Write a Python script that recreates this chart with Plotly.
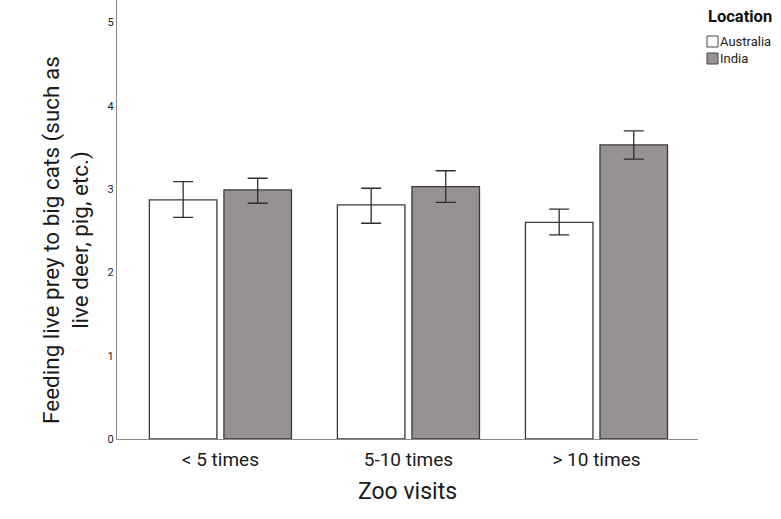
import plotly.graph_objects as go

# Zoo visit categories and mean ratings per location
categories = ["< 5 times", "5-10 times", "> 10 times"]
australia_mean = [2.87, 2.81, 2.60]
australia_err_plus = [0.22, 0.20, 0.16]
australia_err_minus = [0.21, 0.22, 0.15]
india_mean = [2.99, 3.03, 3.53]
india_err_plus = [0.14, 0.19, 0.17]
india_err_minus = [0.16, 0.19, 0.17]
y_ticks = [0, 1, 2, 3, 4, 5]

FONT = "Roboto"
EDGE = "#3a3a3a"
ERR = "#2e2e2e"
AUS_FILL = "#ffffff"
IND_FILL = "#979191"

W, H = 781, 519
ML, MR, MT, MB = 117, 83, 0, 80
PW, PH = W - ML - MR, H - MT - MB


def px(x):
    return (x - ML) / PW


def py(y):
    return (H - MB - y) / PH


fig = go.Figure()
fig.add_trace(go.Bar(
    name="Australia", x=categories, y=australia_mean,
    marker=dict(color=AUS_FILL, line=dict(color=EDGE, width=1.3)),
    error_y=dict(type="data", symmetric=False, array=australia_err_plus,
                 arrayminus=australia_err_minus, color=ERR, thickness=1.3, width=10),
))
fig.add_trace(go.Bar(
    name="India", x=categories, y=india_mean,
    marker=dict(color=IND_FILL, line=dict(color=EDGE, width=1.3)),
    error_y=dict(type="data", symmetric=False, array=india_err_plus,
                 arrayminus=india_err_minus, color=ERR, thickness=1.3, width=10),
))

# Legend drawn as small swatches with labels in the right margin
legend_items = [("Australia", AUS_FILL, 36), ("India", IND_FILL, 53)]
shapes = []
annotations = [dict(
    text="<b>Location</b>", xref="paper", yref="paper", x=px(706), y=py(17),
    xanchor="left", yanchor="middle", showarrow=False,
    font=dict(size=16.5, family=FONT, color="#111"),
)]
for label, fill, top in legend_items:
    shapes.append(dict(type="rect", xref="paper", yref="paper",
                       x0=px(707), x1=px(718), y0=py(top + 11), y1=py(top),
                       fillcolor=fill, line=dict(color="#444", width=1)))
    annotations.append(dict(
        text=label, xref="paper", yref="paper", x=px(718), y=py(top + 5.5),
        xanchor="left", yanchor="middle", showarrow=False,
        font=dict(size=13, family=FONT, color="#222"),
    ))

annotations.append(dict(
    text="Feeding live prey to big cats (such as<br>live deer, pig, etc.)",
    xref="paper", yref="paper", x=px(66), y=py(240), xanchor="center", yanchor="middle",
    textangle=-90, showarrow=False,
    font=dict(size=22.5, family=FONT, color="#1a1a1a"),
))

fig.update_layout(
    width=W, height=H,
    margin=dict(l=ML, r=MR, t=MT, b=MB, autoexpand=False),
    paper_bgcolor="white", plot_bgcolor="white",
    barmode="group", bargap=0.207, bargroupgap=0.094,
    font=dict(family=FONT, color="#1a1a1a"),
    showlegend=False,
    xaxis=dict(
        range=[-0.55, 2.54], showline=True, linecolor="#8a8a8a", linewidth=1,
        ticks="", showgrid=False, zeroline=False, ticklabelstandoff=3,
        tickfont=dict(size=19, family=FONT, color="#1a1a1a"),
        title=dict(text="Zoo visits", font=dict(size=23, family=FONT, color="#1a1a1a"), standoff=13),
    ),
    yaxis=dict(
        range=[0, 5.27], tickvals=y_ticks, showline=True, linecolor="#8a8a8a", linewidth=1,
        ticks="", showgrid=False, zeroline=False,
        tickfont=dict(size=11, family=FONT, color="#1a1a1a"),
    ),
    shapes=shapes,
    annotations=annotations,
)

fig.write_html("out.html")
